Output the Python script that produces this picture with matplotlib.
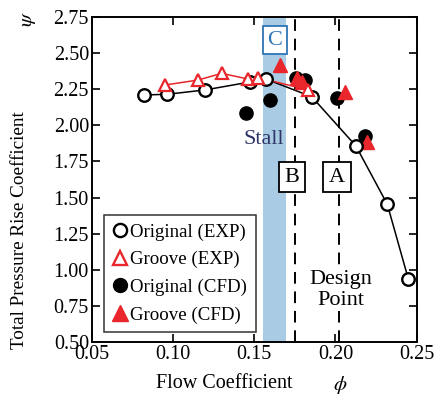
import matplotlib.pyplot as plt
from matplotlib.lines import Line2D

plt.rcParams['font.family'] = ['Liberation Serif', 'DejaVu Serif']
plt.rcParams['mathtext.fontset'] = 'stix'

# data
orig_exp_phi = [0.082, 0.0965, 0.1197, 0.1474, 0.1573, 0.1854, 0.2126, 0.2319, 0.2449]
orig_exp_psi = [2.21, 2.215, 2.245, 2.30, 2.32, 2.198, 1.857, 1.453, 0.933]

groove_exp_phi = [0.0951, 0.1156, 0.130, 0.1464, 0.1525, 0.1833]
groove_exp_psi = [2.279, 2.314, 2.36, 2.32, 2.33, 2.245]

orig_cfd_phi = [0.145, 0.160, 0.1757, 0.1813, 0.2008, 0.2182]
orig_cfd_psi = [2.083, 2.175, 2.325, 2.314, 2.187, 1.926]

groove_cfd_phi = [0.1659, 0.1762, 0.1792, 0.2059, 0.2192]
groove_cfd_psi = [2.418, 2.33, 2.30, 2.233, 1.887]

stall_band = (0.1556, 0.1696)
line_B = 0.1751
line_A = 0.2024

red = '#e8262b'

fig = plt.figure(figsize=(4.35, 4.03), dpi=100)
ax = fig.add_axes([0.2108, 0.1514, 0.7472, 0.8064])

ax.axvspan(stall_band[0], stall_band[1], color='#a9cce4', lw=0, zorder=0)
ax.axvline(line_B, color='k', ls=(0, (6, 4)), lw=1.4, zorder=1)
ax.axvline(line_A, color='k', ls=(0, (6, 4)), lw=1.4, zorder=1)

ax.plot(orig_exp_phi, orig_exp_psi, '-', color='k', lw=1.1, zorder=2)
ax.plot(groove_exp_phi, groove_exp_psi, '-', color=red, lw=1.1, zorder=2)

ax.plot(orig_cfd_phi, orig_cfd_psi, 'o', ls='none', color='k', ms=9.5, zorder=3)
ax.plot(groove_cfd_phi, groove_cfd_psi, '^', ls='none', color=red, ms=9.5, zorder=4)
ax.plot(orig_exp_phi, orig_exp_psi, 'o', ls='none', mfc='white', mec='k', mew=1.7, ms=9, zorder=5)
ax.plot(groove_exp_phi, groove_exp_psi, '^', ls='none', mfc='white', mec=red, mew=1.6, ms=8.5, zorder=6)

ax.set_xlim(0.05, 0.25)
ax.set_ylim(0.5, 2.75)
ax.set_xticks([0.05, 0.10, 0.15, 0.20, 0.25])
ax.set_xticklabels(['0.05', '0.10', '0.15', '0.20', '0.25'])
ax.set_yticks([0.5, 0.75, 1.0, 1.25, 1.5, 1.75, 2.0, 2.25, 2.5, 2.75])
ax.set_yticklabels(['%.2f' % v for v in ax.get_yticks()])
ax.tick_params(direction='in', top=True, right=True, length=6, width=1.2, labelsize=14.5, pad=2)
for s in ax.spines.values():
    s.set_linewidth(1.4)

# axis titles, symbols placed apart like the original
fig.text(224 / 435, 1 - 383 / 403, 'Flow Coefficient', fontsize=14.5, ha='center', va='center')
fig.text(340 / 435, 1 - 385 / 403, '$\\phi$', fontsize=15, ha='center', va='center')
fig.text(20 / 435, 1 - 230 / 403, 'Total Pressure Rise Coefficient', fontsize=13.8,
         rotation=90, ha='center', va='center')
fig.text(29 / 435, 1 - 19 / 403, '$\\psi$', fontsize=15, rotation=90, ha='center', va='center')

# annotations
ax.text(0.1626, 2.59, 'C', fontsize=16, color='#2e75b6', ha='center', va='center', zorder=7,
        bbox=dict(boxstyle='square,pad=0.2', fc='white', ec='#2e75b6', lw=1.3))
ax.text(0.1557, 1.90, 'Stall', fontsize=16, color='#2f3566', ha='center', va='center', zorder=7)
ax.text(0.1733, 1.64, 'B', fontsize=16, ha='center', va='center', zorder=7,
        bbox=dict(boxstyle='square,pad=0.25', fc='white', ec='k', lw=1.3))
ax.text(0.2010, 1.64, 'A', fontsize=16, ha='center', va='center', zorder=7,
        bbox=dict(boxstyle='square,pad=0.25', fc='white', ec='k', lw=1.3))
ax.text(0.2035, 0.86, 'Design\nPoint', fontsize=16, ha='center', va='center',
        linespacing=1.15, zorder=7, bbox=dict(fc='white', ec='none', pad=1))

handles = [
    Line2D([], [], marker='o', ls='none', mfc='white', mec='k', mew=1.7, ms=9.5),
    Line2D([], [], marker='^', ls='none', mfc='white', mec=red, mew=1.7, ms=10),
    Line2D([], [], marker='o', ls='none', color='k', ms=10),
    Line2D([], [], marker='^', ls='none', color=red, ms=11),
]
labels = ['Original (EXP)', 'Groove (EXP)', 'Original (CFD)', 'Groove (CFD)']
leg = ax.legend(handles, labels, loc='lower left', bbox_to_anchor=(0.038, 0.03), fontsize=13.6,
                frameon=True, fancybox=False, edgecolor='k', handlelength=0.8, handletextpad=0.15,
                borderpad=0.45, labelspacing=0.55, borderaxespad=0)
leg.get_frame().set_linewidth(1.1)
leg.set_zorder(8)

fig.savefig('out.png', dpi=100)
